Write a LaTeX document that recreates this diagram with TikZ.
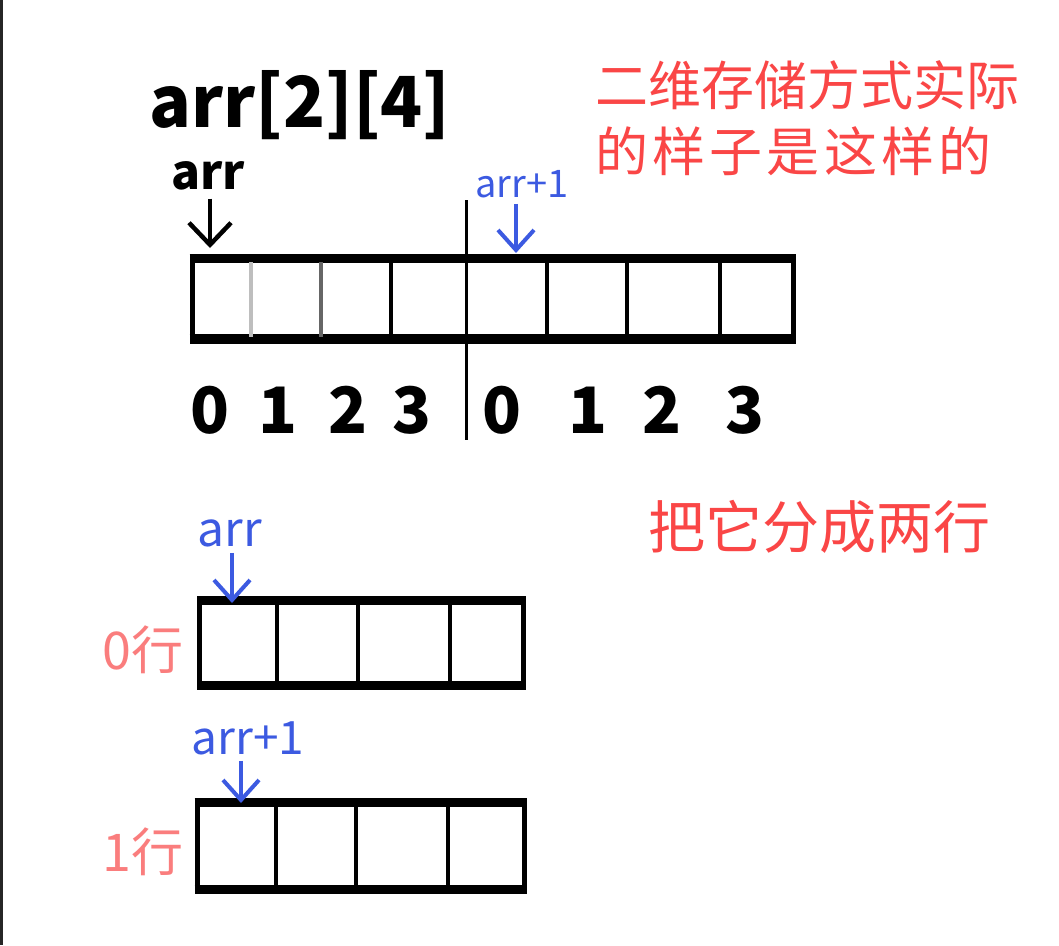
\documentclass[tikz,border=0pt]{standalone}
\usepackage{fontspec}
\setmainfont{Noto Sans CJK SC}
\usetikzlibrary{arrows.meta}
\definecolor{hred}{RGB}{250,70,70}
\definecolor{hpink}{RGB}{250,125,125}
\definecolor{hblue}{RGB}{60,90,225}
\definecolor{hgray}{RGB}{190,190,190}
\tikzset{
  rowbox/.style={draw=black, line width=5pt, inner sep=0pt, minimum height=#1},
  rowbox/.default=82pt,
  edgeline/.style={line width=9pt, line cap=butt},
  cellsep/.style={line width=3.5pt},
  ptr/.style={line width=4.5pt, -{Straight Barb[length=22pt,width=42pt,line width=4.5pt]}},
  bptr/.style={line width=4pt, hblue, -{Straight Barb[length=20pt,width=36pt,line width=4pt]}},
  digit/.style={font=\fontsize{64}{66}\selectfont\bfseries, text=black},
  blab/.style={text=hblue, inner sep=0pt},
  rlab/.style={text=hred, inner sep=0pt, font=\fontsize{53}{66}\selectfont, align=left},
}
\begin{document}
\begin{tikzpicture}[x=1pt,y=-1pt]
\useasboundingbox[fill=white] (0,0) rectangle (1059,945);
\draw[line width=3pt, black!85] (1,0) -- (1,945);

% title
\node[inner sep=0pt, font=\fontsize{64}{66}\selectfont\bfseries, xscale=1.08, yscale=1.1] (title) at (300,105) {arr[2][4]};

% red notes
\node[rlab, anchor=north west] (note1) at (595,60) {二维存储方式实际\\{\addfontfeature{LetterSpace=8}的样子是这样的}};
\node[rlab, anchor=west, font=\fontsize{57}{60}\selectfont] (note2) at (648,527) {把它分成两行};

% top array (8 cells)
\node[rowbox=80pt, minimum width=601pt] (row) at (492.5,299) {};
\draw[edgeline] ([yshift=-2pt]row.north west) -- ([yshift=-2pt]row.north east);
\draw[edgeline, line width=10pt] ([yshift=3pt]row.south west) -- ([yshift=3pt]row.south east);
\draw[cellsep, hgray] (251,262) -- (251,337);
\draw[cellsep, black!60] (321,262) -- (321,337);
\foreach \xx in {391,547,627,720} \draw[cellsep] (\xx,262) -- (\xx,337);
\coordinate (divtop) at (466,200);
\coordinate (divbot) at (466,440);
\draw[line width=3pt] (divtop) -- (divbot);

% index digits
\foreach \xx/\d [count=\i] in {210/0,278/1,348/2,412/3,502/0,588/1,662/2,745/3}
  \node[digit] (d\i) at (\xx,410) {\d};

% pointer labels (top)
\node[inner sep=0pt, font=\fontsize{48}{50}\selectfont\bfseries] (lblarr) at (208,176) {arr};
\coordinate (tipA) at (210,248);
\draw[ptr] (lblarr.south) ++(2,8) -- (tipA);
\node[blab, font=\fontsize{38}{40}\selectfont] (lblarr1) at (522,184) {arr+1};
\coordinate (tipB) at (516,253);
\draw[bptr] (lblarr1.south) ++(-6,6) -- (tipB);

% row 0
\node[rowbox=84pt, minimum width=324pt] (row0) at (361.5,643) {};
\draw[edgeline] ([yshift=-2pt]row0.north west) -- ([yshift=-2pt]row0.north east);
\draw[edgeline] ([yshift=2pt]row0.south west) -- ([yshift=2pt]row0.south east);
\foreach \xx in {277,358,450} \draw[cellsep] (\xx,604) -- (\xx,683);
\node[text=hpink, inner sep=0pt, font=\fontsize{52}{54}\selectfont, anchor=east] (lbl0) at (184,650) {0行};
\node[blab, font=\fontsize{48}{50}\selectfont] (lblarr0) at (230,533) {arr};
\coordinate (tipC) at (232,603);
\draw[bptr] (lblarr0.south) ++(2,6) -- (tipC);

% row 1
\node[rowbox=86pt, minimum width=327pt] (row1) at (360.5,846) {};
\draw[edgeline] ([yshift=-2pt]row1.north west) -- ([yshift=-2pt]row1.north east);
\draw[edgeline] ([yshift=2pt]row1.south west) -- ([yshift=2pt]row1.south east);
\foreach \xx in {276,356,448} \draw[cellsep] (\xx,807) -- (\xx,886);
\node[text=hpink, inner sep=0pt, font=\fontsize{52}{54}\selectfont, anchor=east] (lbl1) at (184,852) {1行};
\node[blab, font=\fontsize{46}{48}\selectfont] (lblarr01) at (248,738) {arr+1};
\coordinate (tipD) at (241,803);
\draw[bptr] (lblarr01.south) ++(-7,6) -- (tipD);
\end{tikzpicture}
\end{document}
